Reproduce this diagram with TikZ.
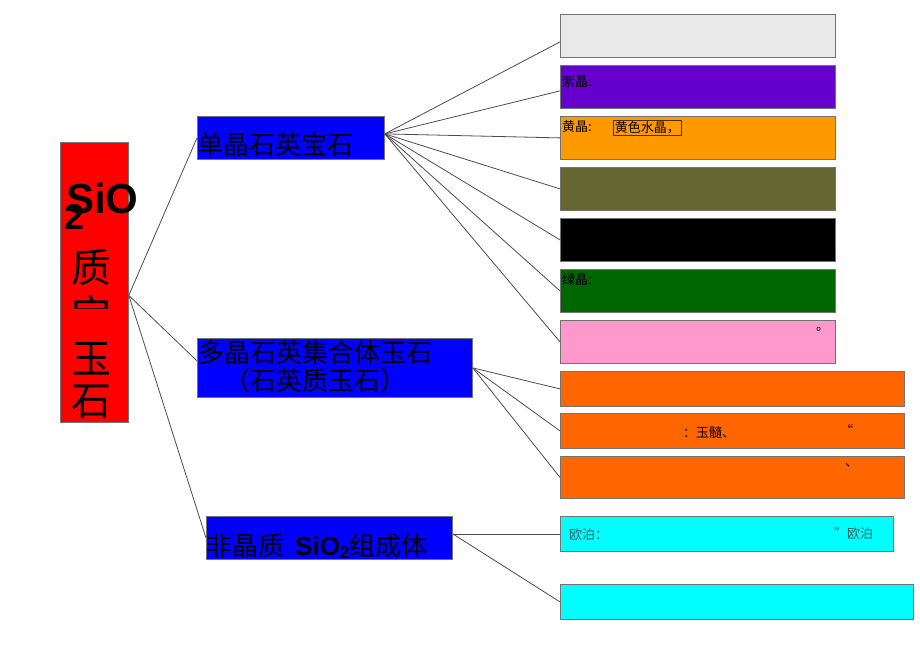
\documentclass[tikz,border=0pt]{standalone}
\usepackage{fontspec}
\newfontfamily\cjk{Noto Sans CJK SC}
\newfontfamily\arialfont{Liberation Sans}
\usetikzlibrary{positioning}

\begin{document}
\begin{tikzpicture}[x=1pt,y=-1pt,
    box/.style={draw=black!55, line width=0.8pt, anchor=north west, inner sep=0pt},
    leaf/.style={box, minimum width=275pt, minimum height=43pt},
    wideleaf/.style={box, minimum height=35pt},
    link/.style={draw=black!70, line width=0.8pt},
    lbl/.style={inner sep=0pt, anchor=north west, font=\cjk\fontsize{13}{13}\selectfont},
    midtext/.style={inner sep=0pt, font=\cjk\fontsize{26}{28}\selectfont}]
    % Define colors
    \definecolor{leafgray}{RGB}{233,233,233}
    \definecolor{leafpurple}{RGB}{102,0,204}
    \definecolor{leafamber}{RGB}{255,153,0}
    \definecolor{leafolive}{RGB}{102,102,51}
    \definecolor{leafgreen}{RGB}{0,102,0}
    \definecolor{leafpink}{RGB}{255,153,204}
    \definecolor{leaforange}{RGB}{255,102,0}
    \definecolor{leafcyan}{RGB}{0,255,255}
    \definecolor{tealtext}{RGB}{50,95,95}
    \useasboundingbox (0,0) rectangle (920,650);

    % Draw root box
    \node[box, fill=red, minimum width=68pt, minimum height=280pt] (root) at (60,142) {};
    \node[anchor=base west, inner sep=0pt, font=\arialfont\bfseries\fontsize{42}{42}\selectfont] (sio) at (66,213) {SiO};
    \node[anchor=base west, inner sep=0pt, font=\arialfont\bfseries\fontsize{36}{36}\selectfont] (two) at (64,229) {2};
    \node[inner sep=0pt, font=\cjk\fontsize{40}{40}\selectfont] (zhi) at (91,267) {质};
    \begin{scope}
        \clip (60,290) rectangle (128,308);
        \node[inner sep=0pt, font=\cjk\fontsize{40}{40}\selectfont] (bao) at (91,314) {宝};
    \end{scope}
    \node[inner sep=0pt, font=\cjk\fontsize{40}{40}\selectfont] (yu) at (91,359) {玉};
    \node[inner sep=0pt, font=\cjk\fontsize{40}{40}\selectfont] (shi) at (91,402) {石};

    % Draw middle boxes
    \node[box, fill=blue, minimum width=187pt, minimum height=43pt] (mono) at (197,116) {};
    \node[box, fill=blue, minimum width=275pt, minimum height=59pt] (poly) at (197,338) {};
    \node[box, fill=blue, minimum width=246pt, minimum height=43pt] (amor) at (206,516) {};
    \node[midtext, anchor=base west] (monotext) at (197,154) {单晶石英宝石};
    \node[midtext, align=center] (polytext) at (315,367) {多晶石英集合体玉石\\（石英质玉石）};
    \node[midtext, anchor=base west] (amortext) at (206,555)
        {非晶质\hspace{11pt}{\arialfont\bfseries SiO\raisebox{-3pt}{\fontsize{17}{17}\selectfont 2}}组成体};

    % Draw leaf boxes
    \node[leaf, fill=leafgray] (l1) at (560,14) {};
    \node[leaf, fill=leafpurple] (l2) at (560,65) {};
    \node[leaf, fill=leafamber] (l3) at (560,116) {};
    \node[leaf, fill=leafolive] (l4) at (560,167) {};
    \node[leaf, fill=black] (l5) at (560,218) {};
    \node[leaf, fill=leafgreen] (l6) at (560,269) {};
    \node[leaf, fill=leafpink] (l7) at (560,320) {};
    \node[wideleaf, fill=leaforange, minimum width=344pt] (l8) at (560,371) {};
    \node[wideleaf, fill=leaforange, minimum width=344pt] (l9) at (560,413) {};
    \node[wideleaf, fill=leaforange, minimum width=344pt, minimum height=42pt] (l10) at (560,456) {};
    \node[wideleaf, fill=leafcyan, minimum width=333pt] (l11) at (560,516) {};
    \node[wideleaf, fill=leafcyan, minimum width=353pt] (l12) at (560,584) {};

    % Leaf labels
    \node[lbl] (t2) at (562,75) {紫晶:};
    \node[lbl] (t3) at (562,120) {黄晶:};
    \node[lbl, draw=black!70!leafamber, line width=0.6pt, inner sep=1.5pt] (t3b) at (613,120) {黄色水晶，};
    \node[lbl] (t6) at (562,273) {绿晶:};
    \node[lbl] (t7) at (816,327) {。};
    \node[lbl] (t9a) at (683,426) {：玉髓、};
    \node[lbl] (t9b) at (840,424) {“};
    \node[lbl] (t10) at (845,463) {、};
    \node[lbl, text=tealtext] (t11a) at (569,528) {欧泊：};
    \node[lbl, text=tealtext] (t11b) at (834,527) {”欧泊};

    % Draw connectors
    \coordinate (roothub) at ([yshift=-13pt]root.east);
    \coordinate (monohub) at ([yshift=4pt]mono.east);
    \draw[link] (roothub) -- (mono.west);
    \draw[link] (roothub) -- ([yshift=7pt]poly.west);
    \draw[link] (roothub) -- (amor.west);
    \draw[link] (monohub) -- ([yshift=-6pt]l1.west);
    \draw[link] (monohub) -- ([yshift=-4pt]l2.west);
    \draw[link] (monohub) -- (l3.west);
    \draw[link] (monohub) -- (l4.west);
    \draw[link] (monohub) -- (l5.west);
    \draw[link] (monohub) -- (l6.west);
    \draw[link] (monohub) -- (l7.west);
    \draw[link] (poly.east) -- (l8.west);
    \draw[link] (poly.east) -- (l9.west);
    \draw[link] (poly.east) -- (l10.west);
    \draw[link] ([yshift=4pt]amor.east) -- (l11.west);
    \draw[link] ([yshift=4pt]amor.east) -- (l12.west);
\end{tikzpicture}
\end{document}
